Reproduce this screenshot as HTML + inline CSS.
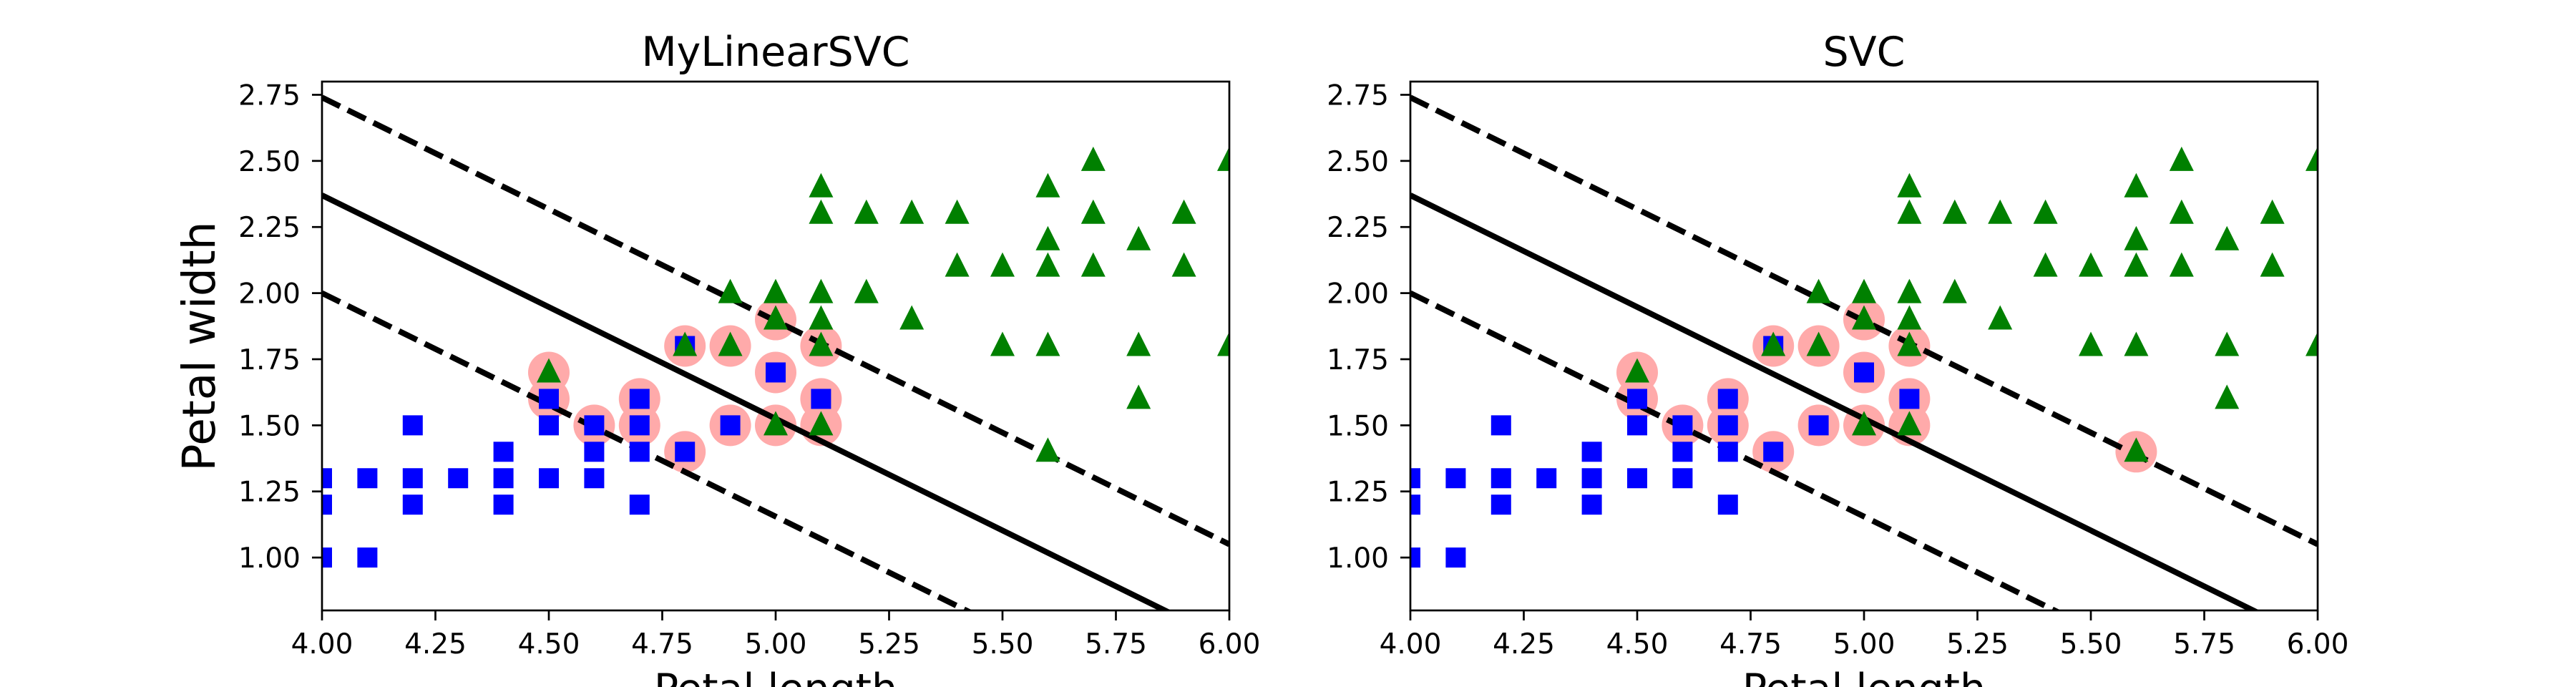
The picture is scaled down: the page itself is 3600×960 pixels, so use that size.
<!DOCTYPE html>
<html><head><meta charset="utf-8"><style>
html,body{margin:0;padding:0;background:#fff;width:3600px;height:960px;overflow:hidden;}
svg{display:block;font-family:"DejaVu Sans","Liberation Sans",sans-serif;overflow:hidden;}
</style></head><body>
<svg id="chart" width="3600" height="960" viewBox="0 0 3600 960" xmlns="http://www.w3.org/2000/svg"></svg>
<script>
const blueX = [4.0,4.0,4.0,4.1,4.1,4.2,4.2,4.2,4.3,4.4,4.4,4.4,4.5,4.5,4.5,4.6,4.6,4.6,4.7,4.7,4.7,4.7,4.8,4.8,4.9,5.0,5.1];
const blueY = [1.3,1.2,1.0,1.3,1.0,1.5,1.3,1.2,1.3,1.4,1.3,1.2,1.6,1.5,1.3,1.5,1.4,1.3,1.6,1.5,1.4,1.2,1.8,1.4,1.5,1.7,1.6];
const greenX = [4.5,4.8,4.9,4.9,5.0,5.0,5.0,5.1,5.1,5.1,5.1,5.1,5.1,5.2,5.2,5.3,5.3,5.4,5.4,5.5,5.5,5.6,5.6,5.6,5.6,5.6,5.7,5.7,5.7,5.8,5.8,5.8,5.9,5.9,6.0,6.0];
const greenY = [1.7,1.8,2.0,1.8,2.0,1.9,1.5,2.4,2.3,2.0,1.9,1.8,1.5,2.3,2.0,2.3,1.9,2.3,2.1,2.1,1.8,2.4,2.2,2.1,1.8,1.4,2.5,2.3,2.1,2.2,1.8,1.6,2.3,2.1,2.5,1.8];
const svLeftX = [4.5,4.5,4.6,4.7,4.7,4.8,4.8,4.9,4.9,5.0,5.0,5.0,5.1,5.1,5.1];
const svLeftY = [1.7,1.6,1.5,1.6,1.5,1.8,1.4,1.8,1.5,1.9,1.7,1.5,1.8,1.6,1.5];
const svRightX = [4.5,4.5,4.6,4.7,4.7,4.8,4.8,4.9,4.9,5.0,5.0,5.0,5.1,5.1,5.1,5.6];
const svRightY = [1.7,1.6,1.5,1.6,1.5,1.8,1.4,1.8,1.5,1.9,1.7,1.5,1.8,1.6,1.5,1.4];
const boundaryIntercept = [2.37, 2.37];
const boundarySlope = [-0.845, -0.845];
const marginWidth = [0.37, 0.37];
const xTicks = [4.00,4.25,4.50,4.75,5.00,5.25,5.50,5.75,6.00];
const yTicks = [1.00,1.25,1.50,1.75,2.00,2.25,2.50,2.75];
const titles = ["MyLinearSVC","SVC"];

const NS="http://www.w3.org/2000/svg";
const svg=document.getElementById('chart');
function mk(tag,attrs,parent){const e=document.createElementNS(NS,tag);for(const k in attrs)e.setAttribute(k,attrs[k]);(parent||svg).appendChild(e);return e;}

const panels=[{x0:450,x1:1718,sx:svLeftX,sy:svLeftY},{x0:1971,x1:3239,sx:svRightX,sy:svRightY}];
const Y0=114,Y1=853,XMIN=4,XMAX=6,YMIN=0.8,YMAX=2.8;

panels.forEach((p,pi)=>{
  const g=mk('g',{});
  
  
  const X=v=>p.x0+(v-XMIN)/(XMAX-XMIN)*(p.x1-p.x0);
  const Y=v=>Y1-(v-YMIN)/(YMAX-YMIN)*(Y1-Y0);
  const cid='clip'+pi;
  const cp=mk('clipPath',{id:cid},g);
  mk('rect',{x:p.x0,y:Y0,width:p.x1-p.x0,height:Y1-Y0},cp);
  const plot=mk('g',{'clip-path':'url(#'+cid+')'},g);
  for(let i=0;i<p.sx.length;i++){
    const c=mk('ellipse',{cx:X(p.sx[i]),cy:Y(p.sy[i]),rx:29,ry:29,fill:'#FFAAAA'},plot);
    
    
  }
  const b=boundaryIntercept[pi],s=boundarySlope[pi],m=marginWidth[pi];
  [[b,'none','boundary-line'],[b+m,'28,12','upper-margin'],[b-m,'28,12','lower-margin']].forEach(([ic,da,nm])=>{
    const l=mk('line',{x1:X(XMIN),y1:Y(ic),x2:X(XMAX),y2:Y(ic+s*(XMAX-XMIN)),stroke:'#000','stroke-width':8,'stroke-dasharray':da},plot);
    
    
  });
  for(let i=0;i<blueX.length;i++){
    const r=mk('rect',{x:X(blueX[i])-14,y:Y(blueY[i])-14,width:28,height:28,fill:'#0000FF'},plot);
    
    
  }
  for(let i=0;i<greenX.length;i++){
    const cx=X(greenX[i]),cy=Y(greenY[i]);
    const t=mk('polygon',{points:`${cx},${cy-20} ${cx-17},${cy+14} ${cx+17},${cy+14}`,fill:'#008000'},plot);
    
    
  }
  const f=mk('rect',{x:p.x0,y:Y0,width:p.x1-p.x0,height:Y1-Y0,fill:'none',stroke:'#000','stroke-width':2.7},g);
  
  
  xTicks.forEach(v=>{
    mk('line',{x1:X(v),y1:Y1,x2:X(v),y2:Y1+14,stroke:'#000','stroke-width':2.7},g);
    const t=mk('text',{x:X(v),y:913,'font-size':39,'text-anchor':'middle'},g);
    t.textContent=v.toFixed(2);
    
    
  });
  yTicks.forEach(v=>{
    mk('line',{x1:p.x0-14,y1:Y(v),x2:p.x0,y2:Y(v),stroke:'#000','stroke-width':2.7},g);
    const t=mk('text',{x:p.x0-30,y:Y(v)+14,'font-size':39,'text-anchor':'end'},g);
    t.textContent=v.toFixed(2);
    
    
  });
  const ti=mk('text',{x:(p.x0+p.x1)/2,y:92,'font-size':57,'text-anchor':'middle'},g);
  ti.textContent=titles[pi];
  
  
  const xl=mk('text',{x:(p.x0+p.x1)/2,y:982,'font-size':57,'text-anchor':'middle'},g);
  xl.textContent='Petal length';
  
  
  if(pi===0){
    const yl=mk('text',{x:0,y:0,'font-size':63,'text-anchor':'middle',transform:'translate(300,484) rotate(-90)'},g);
    yl.textContent='Petal width';
    
    
  }
});
</script>
</body></html>
